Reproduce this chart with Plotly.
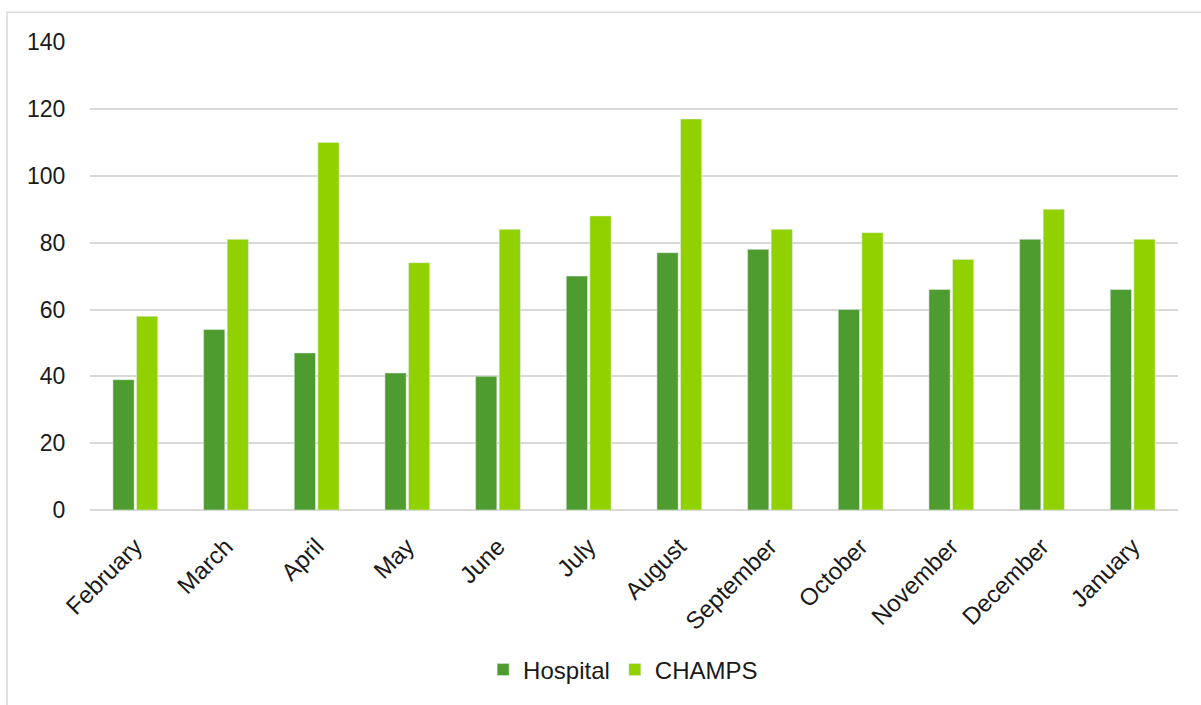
import plotly.graph_objects as go

months = ["February", "March", "April", "May", "June", "July", "August",
          "September", "October", "November", "December", "January"]
hospital = [39, 54, 47, 41, 40, 70, 77, 78, 60, 66, 81, 66]
champs = [58, 81, 110, 74, 84, 88, 117, 84, 83, 75, 90, 81]
y_ticks = [0, 20, 40, 60, 80, 100, 120, 140]

W, H = 1201, 705
L, R, T, B = 90, 23, 42, 192
pw, ph = W - L - R, H - T - B

fig = go.Figure()
fig.add_trace(go.Bar(x=months, y=hospital, name="Hospital", marker_color="#4E9C30"))
fig.add_trace(go.Bar(x=months, y=champs, name="CHAMPS", marker_color="#92D100"))

def px_x(p):
    return (p - L) / pw

def px_y(p):
    return (H - B - p) / ph

fig.add_shape(type="rect", xref="paper", yref="paper",
              x0=px_x(7), x1=px_x(1230), y0=px_y(12), y1=px_y(740),
              line=dict(color="#D9D9D9", width=1.5), fillcolor="rgba(0,0,0,0)", layer="below")

fig.update_layout(
    width=W, height=H,
    margin=dict(l=L, r=R, t=T, b=B),
    paper_bgcolor="white", plot_bgcolor="white",
    barmode="group", bargap=0.48, bargroupgap=0.1,
    font=dict(family="Liberation Sans, Arial", size=23, color="#1a1a1a"),
    showlegend=True,
    legend=dict(orientation="h", x=0.49, xanchor="center", y=px_y(674), yanchor="middle",
                font=dict(size=24), itemwidth=30, traceorder="normal"),
    xaxis=dict(tickangle=-45, showgrid=False, showline=False, ticks="outside", ticklen=12,
               tickcolor="rgba(0,0,0,0)", tickfont=dict(size=24)),
    yaxis=dict(range=[0, 140.05], tickvals=y_ticks, showgrid=True, gridcolor="#D9D9D9", gridwidth=1.5,
               zeroline=True, zerolinecolor="#D9D9D9", zerolinewidth=1.5, ticks="outside",
               ticklen=19, tickcolor="rgba(0,0,0,0)", tickfont=dict(size=23), showline=False),
)
fig.write_html("out.html")
